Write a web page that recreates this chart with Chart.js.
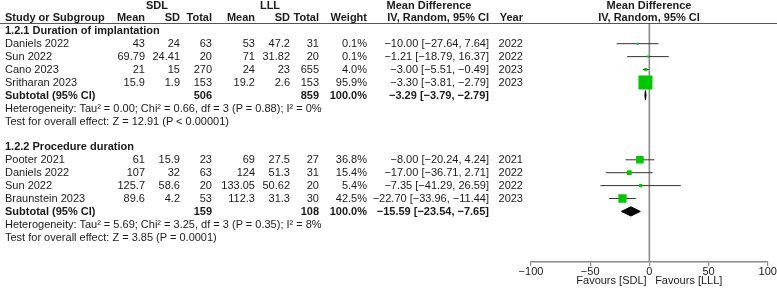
<!DOCTYPE html>
<html><head><meta charset="utf-8">
<script src="https://cdn.jsdelivr.net/npm/chart.js@4/dist/chart.umd.min.js"></script>
<style>
html,body{margin:0;padding:0;background:#fff;overflow:hidden;width:777px;height:288px;}
#wrap{position:relative;width:777px;height:288px;overflow:hidden;font-family:"Liberation Sans",Arial,sans-serif;font-size:11px;color:#1a1a1a;}
#c{position:absolute;left:0;top:0;}
.t{position:absolute;white-space:nowrap;line-height:13px;}
.r{transform:translateX(-100%);}
.c{transform:translateX(-50%);}
.b{font-weight:bold;}
#hline{position:absolute;left:0;top:23px;width:777px;height:0;border-top:1px solid #555;}
</style></head><body>
<div id="wrap"><canvas id="c" width="800" height="288" style="width:800px;height:288px"></canvas><div id="hline"></div></div>
<script>
// ---------- data ----------
const groupTitles = ["1.2.1 Duration of implantation", "1.2.2 Procedure duration"];

const g1Studies = ["Daniels 2022", "Sun 2022", "Cano 2023", "Sritharan 2023"];
const g1SdlMean = [43, 69.79, 21, 15.9];
const g1SdlSD   = [24, 24.41, 15, 1.9];
const g1SdlN    = [63, 20, 270, 153];
const g1LllMean = [53, 71, 24, 19.2];
const g1LllSD   = [47.2, 31.82, 23, 2.6];
const g1LllN    = [31, 20, 655, 153];
const g1Weight  = [0.1, 0.1, 4.0, 95.9];
const g1MD      = [-10.00, -1.21, -3.00, -3.30];
const g1Lo      = [-27.64, -18.79, -5.51, -3.81];
const g1Hi      = [7.64, 16.37, -0.49, -2.79];
const g1Year    = [2022, 2022, 2023, 2023];
const g1Sub     = {sdlN: 506, lllN: 859, weight: 100.0, md: -3.29, lo: -3.79, hi: -2.79};
const g1Het  = "Heterogeneity: Tau² = 0.00; Chi² = 0.66, df = 3 (P = 0.88); I² = 0%";
const g1Test = "Test for overall effect: Z = 12.91 (P < 0.00001)";

const g2Studies = ["Pooter 2021", "Daniels 2022", "Sun 2022", "Braunstein 2023"];
const g2SdlMean = [61, 107, 125.7, 89.6];
const g2SdlSD   = [15.9, 32, 58.6, 4.2];
const g2SdlN    = [23, 63, 20, 53];
const g2LllMean = [69, 124, 133.05, 112.3];
const g2LllSD   = [27.5, 51.3, 50.62, 31.3];
const g2LllN    = [27, 31, 20, 30];
const g2Weight  = [36.8, 15.4, 5.4, 42.5];
const g2MD      = [-8.00, -17.00, -7.35, -22.70];
const g2Lo      = [-20.24, -36.71, -41.29, -33.96];
const g2Hi      = [4.24, 2.71, 26.59, -11.44];
const g2Year    = [2021, 2022, 2022, 2023];
const g2Sub     = {sdlN: 159, lllN: 108, weight: 100.0, md: -15.59, lo: -23.54, hi: -7.65};
const g2Het  = "Heterogeneity: Tau² = 5.69; Chi² = 3.25, df = 3 (P = 0.35); I² = 8%";
const g2Test = "Test for overall effect: Z = 3.85 (P = 0.0001)";

const xTicks = [-100, -50, 0, 50, 100];
const axisTitle = "Favours [SDL]\u2002 Favours [LLL]";

// ---------- layout ----------
const ROW0 = 30.8, ROWH = 12.9;
const rowY = i => ROW0 + ROWH * i;
const col = {sdlMean:145, sdlSD:180, sdlN:212, lllMean:255, lllSD:290, lllN:319, weight:367, ci:489, year:523};
const wrap = document.getElementById('wrap');
function txt(x, yc, s, align, bold){
  const d = document.createElement('div');
  d.className = 't' + (align==='r' ? ' r' : align==='c' ? ' c' : '') + (bold ? ' b' : '');
  d.style.left = x + 'px'; d.style.top = (yc - 6.5) + 'px';
  d.textContent = s;
  wrap.appendChild(d);
}
const neg = v => (v < 0 ? '\u2212' : '') + Math.abs(v).toFixed(2);
const ciStr = (m, l, h) => neg(m) + ' [' + neg(l) + ', ' + neg(h) + ']';

// header
txt(157, 5, 'SDL', 'c', true);
txt(270, 5, 'LLL', 'c', true);
txt(429, 5, 'Mean Difference', 'c', true);
txt(649, 5, 'Mean Difference', 'c', true);
txt(5, 17, 'Study or Subgroup', 'l', true);
txt(col.sdlMean, 17, 'Mean', 'r', true);
txt(col.sdlSD, 17, 'SD', 'r', true);
txt(col.sdlN, 17, 'Total', 'r', true);
txt(col.lllMean, 17, 'Mean', 'r', true);
txt(col.lllSD, 17, 'SD', 'r', true);
txt(col.lllN, 17, 'Total', 'r', true);
txt(col.weight, 17, 'Weight', 'r', true);
txt(col.ci, 17, 'IV, Random, 95% CI', 'r', true);
txt(col.year, 17, 'Year', 'r', true);
txt(649, 17, 'IV, Random, 95% CI', 'c', true);

const groups = [
  {title: groupTitles[0], start: 0, names: g1Studies, sm: g1SdlMean, ss: g1SdlSD, sn: g1SdlN, lm: g1LllMean, ls: g1LllSD, ln: g1LllN, w: g1Weight, md: g1MD, lo: g1Lo, hi: g1Hi, yr: g1Year, sub: g1Sub, het: g1Het, test: g1Test},
  {title: groupTitles[1], start: 9, names: g2Studies, sm: g2SdlMean, ss: g2SdlSD, sn: g2SdlN, lm: g2LllMean, ls: g2LllSD, ln: g2LllN, w: g2Weight, md: g2MD, lo: g2Lo, hi: g2Hi, yr: g2Year, sub: g2Sub, het: g2Het, test: g2Test}
];

const squares = [], ciLines = [], diamonds = [];
groups.forEach(g => {
  txt(5, rowY(g.start), g.title, 'l', true);
  g.names.forEach((n, k) => {
    const r = g.start + 1 + k, y = rowY(r);
    txt(5, y, n, 'l');
    txt(col.sdlMean, y, String(g.sm[k]), 'r');
    txt(col.sdlSD, y, String(g.ss[k]), 'r');
    txt(col.sdlN, y, String(g.sn[k]), 'r');
    txt(col.lllMean, y, String(g.lm[k]), 'r');
    txt(col.lllSD, y, String(g.ls[k]), 'r');
    txt(col.lllN, y, String(g.ln[k]), 'r');
    txt(col.weight, y, g.w[k].toFixed(1) + '%', 'r');
    txt(col.ci, y, ciStr(g.md[k], g.lo[k], g.hi[k]), 'r');
    txt(col.year, y, String(g.yr[k]), 'r');
    squares.push({x: g.md[k], y: r, w: g.w[k]});
    ciLines.push([{x: g.lo[k], y: r}, {x: g.hi[k], y: r}]);
  });
  const sr = g.start + 5, sy = rowY(sr);
  txt(5, sy, 'Subtotal (95% CI)', 'l', true);
  txt(col.sdlN, sy, String(g.sub.sdlN), 'r', true);
  txt(col.lllN, sy, String(g.sub.lllN), 'r', true);
  txt(col.weight, sy, g.sub.weight.toFixed(1) + '%', 'r', true);
  txt(col.ci, sy, ciStr(g.sub.md, g.sub.lo, g.sub.hi), 'r', true);
  txt(5, rowY(sr + 1), g.het, 'l');
  txt(5, rowY(sr + 2), g.test, 'l');
  const h = 0.36;
  diamonds.push([{x: g.sub.lo, y: sr}, {x: g.sub.md, y: sr - h}, {x: g.sub.hi, y: sr}, {x: g.sub.md, y: sr + h}, {x: g.sub.lo, y: sr}]);
});

// ---------- chart ----------
const TOP = 24, AXIS = 262;
const yMin = (TOP - ROW0) / ROWH, yMax = (AXIS - ROW0) / ROWH;
const FONT = '"Liberation Sans", Arial, sans-serif';
const sideFromWeight = w => 2 + 12 * Math.pow(w / 95.9, 0.8);

const datasets = [];
datasets.push({
  type: 'scatter', data: squares, order: 0,
  pointStyle: 'rect', backgroundColor: 'rgb(0,200,0)', borderColor: 'rgb(0,200,0)', borderWidth: 0,
  pointRadius: ctx => sideFromWeight(ctx.raw.w) / Math.SQRT2
});
diamonds.forEach(d => datasets.push({
  type: 'line', data: d, order: 1, showLine: true, pointRadius: 0, borderColor: '#000', borderWidth: 1,
  backgroundColor: '#000', fill: 'shape', tension: 0
}));
ciLines.forEach(d => datasets.push({
  type: 'line', data: d, order: 2, showLine: true, pointRadius: 0, borderColor: '#333', borderWidth: 1, fill: false
}));
datasets.push({
  type: 'line', data: [{x: 0, y: yMin}, {x: 0, y: yMax}], order: 3, showLine: true, pointRadius: 0,
  borderColor: '#8a8a8a', borderWidth: 1.6, fill: false
});

new Chart(document.getElementById('c'), {
  type: 'scatter',
  data: {datasets},
  options: {
    responsive: false, animation: false, events: [],
    layout: {padding: {left: 531, right: 800 - 767.7, top: TOP, bottom: 0}},
    plugins: {legend: {display: false}, tooltip: {enabled: false}},
    scales: {
      x: {
        type: 'linear', min: -100, max: 100,
        afterFit: s => { s.height = 288 - AXIS; },
        afterBuildTicks: s => { s.ticks = xTicks.map(v => ({value: v})); },
        ticks: {padding: 0, color: '#1a1a1a', font: {family: FONT, size: 11, lineHeight: 1},
          callback: v => (v < 0 ? '\u2212' + Math.abs(v) : String(v)), maxRotation: 0, autoSkip: false},
        grid: {display: true, drawOnChartArea: false, drawTicks: true, tickLength: 4, color: '#888', lineWidth: 1.2},
        border: {display: true, color: '#888', width: 1.4},
        title: {display: true, text: axisTitle, color: '#1a1a1a', font: {family: FONT, size: 11, lineHeight: 1.2}, padding: {top: 0, bottom: 0}}
      },
      y: {type: 'linear', min: yMin, max: yMax, reverse: true, display: false}
    }
  }
});
</script>
</body></html>
